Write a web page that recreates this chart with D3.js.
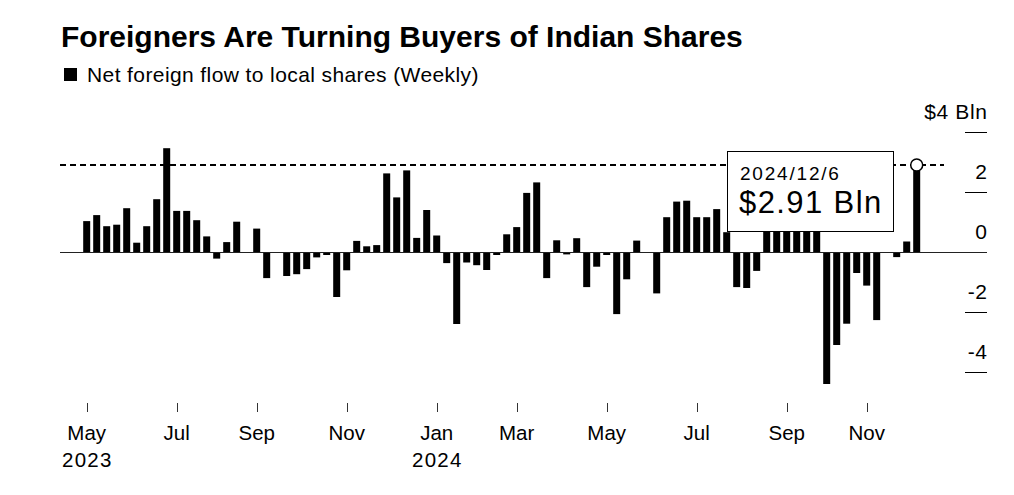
<!DOCTYPE html>
<html>
<head>
<meta charset="utf-8">
<script src="https://cdn.jsdelivr.net/npm/d3@7"></script>
<style>
  html, body { margin: 0; padding: 0; background: #fff; }
  svg { display: block; font-family: "Liberation Sans", Arial, Helvetica, sans-serif; }
</style>
</head>
<body>
<svg id="chart" width="1014" height="495"></svg>
<script>
// ---------- DATA ----------
const weeks = [
  "2023-05-05","2023-05-12","2023-05-19","2023-05-26",
  "2023-06-02","2023-06-09","2023-06-16","2023-06-23","2023-06-30",
  "2023-07-07","2023-07-14","2023-07-21","2023-07-28",
  "2023-08-04","2023-08-11","2023-08-18","2023-08-25",
  "2023-09-01","2023-09-08","2023-09-15","2023-09-22","2023-09-29",
  "2023-10-06","2023-10-13","2023-10-20","2023-10-27",
  "2023-11-03","2023-11-10","2023-11-17","2023-11-24",
  "2023-12-01","2023-12-08","2023-12-15","2023-12-22","2023-12-29",
  "2024-01-05","2024-01-12","2024-01-19","2024-01-26",
  "2024-02-02","2024-02-09","2024-02-16","2024-02-23",
  "2024-03-01","2024-03-08","2024-03-15","2024-03-22","2024-03-29",
  "2024-04-05","2024-04-12","2024-04-19","2024-04-26",
  "2024-05-03","2024-05-10","2024-05-17","2024-05-24","2024-05-31",
  "2024-06-07","2024-06-14","2024-06-21","2024-06-28",
  "2024-07-05","2024-07-12","2024-07-19","2024-07-26",
  "2024-08-02","2024-08-09","2024-08-16","2024-08-23","2024-08-30",
  "2024-09-06","2024-09-13","2024-09-20","2024-09-27",
  "2024-10-04","2024-10-11","2024-10-18","2024-10-25",
  "2024-11-01","2024-11-08","2024-11-15","2024-11-22","2024-11-29",
  "2024-12-06"
];
// Net foreign flow to local shares, $ Bln (weekly)
const netFlow = [
  1.04, 1.24, 0.87, 0.92,
  1.47, 0.32, 0.87, 1.77, 3.47,
  1.38, 1.38, 1.07, 0.53,
  -0.21, 0.34, 1.02, -0.02,
  0.79, -0.86, 0.00, -0.79, -0.73,
  -0.56, -0.17, -0.09, -1.49,
  -0.60, 0.38, 0.20, 0.24,
  2.63, 1.83, 2.73, 0.48, 1.41,
  0.56, -0.36, -2.39, -0.34,
  -0.43, -0.59, -0.09, 0.60,
  0.84, 1.98, 2.33, -0.86, 0.40,
  -0.07, 0.47, -1.16, -0.48,
  -0.09, -2.06, -0.90, 0.39, -0.02,
  -1.37, 1.17, 1.69, 1.72,
  1.17, 1.17, 1.44, 0.67,
  -1.16, -1.19, -0.62, 0.90, 1.30,
  1.10, 1.90, 2.40, 1.60,
  -4.39, -3.09, -2.38, -0.69,
  -1.11, -2.26, 0.00, -0.16, 0.36,
  2.91
];
const xTickWeeks  = ["2023-05-05","2023-07-07","2023-09-01","2023-11-03","2024-01-05","2024-03-01","2024-05-03","2024-07-05","2024-09-06","2024-11-01"];
const xTickLabels = ["May","Jul","Sep","Nov","Jan","Mar","May","Jul","Sep","Nov"];
const xYearLabels = ["2023","","","","2024","","","","",""];
const yTicks      = [4, 2, 0, -2, -4];
const yTickLabels = ["$4 Bln", "2", "0", "-2", "-4"];
const titleText   = "Foreigners Are Turning Buyers of Indian Shares";
const legendText  = "Net foreign flow to local shares (Weekly)";
const calloutDate = "2024/12/6";
const calloutValue = "$2.91 Bln";
const calloutIndex = 83;

// ---------- CHART ----------
const svg = d3.select("#chart");

const x = d3.scaleBand()
  .domain(weeks)
  .range([83.2, 83.2 + 10 * (weeks.length - 0.3)])
  .paddingInner(0.3)
  .paddingOuter(0);

const y = d3.scaleLinear().domain([-4, 4]).range([372.3, 132.3]);

// Title
svg.append("text")
  .attr("x", 61).attr("y", 47)
  .attr("font-size", 30).attr("font-weight", "bold").attr("fill", "#000")
  .text(titleText);

// Legend
svg.append("rect").attr("x", 64).attr("y", 68).attr("width", 13).attr("height", 13).attr("fill", "#000");
svg.append("text")
  .attr("x", 87).attr("y", 82)
  .attr("font-size", 21).attr("letter-spacing", 0.4).attr("fill", "#000")
  .text(legendText);

// Y axis (right side, ticks as short lines with labels above)
const yAxisG = svg.append("g").attr("class", "y-axis");
yAxisG.selectAll("line.tick")
  .data(yTicks.filter(d => d !== 0))
  .join("line")
  .attr("class", "tick")
  .attr("x1", 965).attr("x2", 987)
  .attr("y1", d => Math.round(y(d)) + 0.5).attr("y2", d => Math.round(y(d)) + 0.5)
  .attr("stroke", "#000").attr("stroke-width", 1);
yAxisG.selectAll("text")
  .data(yTicks)
  .join("text")
  .attr("x", 987.5)
  .attr("y", d => y(d) - 13.5)
  .attr("text-anchor", "end")
  .attr("font-size", 21).attr("letter-spacing", 0.6).attr("fill", "#000")
  .text((d, i) => yTickLabels[i]);

// Bars
svg.append("g").selectAll("rect")
  .data(weeks.map((w, i) => ({ w, v: netFlow[i] })))
  .join("rect")
  .attr("x", d => x(d.w))
  .attr("width", x.bandwidth())
  .attr("y", d => y(Math.max(0, d.v)))
  .attr("height", d => Math.abs(y(d.v) - y(0)))
  .attr("fill", "#000");

// Zero line
svg.append("line")
  .attr("x1", 60).attr("x2", 987)
  .attr("y1", Math.round(y(0)) + 0.5).attr("y2", Math.round(y(0)) + 0.5)
  .attr("stroke", "#222").attr("stroke-width", 1);

// X axis ticks and labels
const xAxisG = svg.append("g").attr("class", "x-axis");
xAxisG.selectAll("line")
  .data(xTickWeeks)
  .join("line")
  .attr("x1", d => Math.round(x(d) + x.bandwidth() / 2) + 0.5)
  .attr("x2", d => Math.round(x(d) + x.bandwidth() / 2) + 0.5)
  .attr("y1", 403).attr("y2", 412)
  .attr("stroke", "#333").attr("stroke-width", 1);
xAxisG.selectAll("text.month")
  .data(xTickWeeks)
  .join("text")
  .attr("class", "month")
  .attr("x", d => x(d) + x.bandwidth() / 2)
  .attr("y", 440)
  .attr("text-anchor", "middle")
  .attr("font-size", 20.5).attr("fill", "#000")
  .text((d, i) => xTickLabels[i]);
xAxisG.selectAll("text.year")
  .data(xTickWeeks)
  .join("text")
  .attr("class", "year")
  .attr("x", d => x(d) + x.bandwidth() / 2 + 0.6)
  .attr("y", 467)
  .attr("text-anchor", "middle")
  .attr("font-size", 20.5).attr("letter-spacing", 1.2).attr("fill", "#000")
  .text((d, i) => xYearLabels[i]);

// Reference dashed line at latest value
const lastW = weeks[calloutIndex];
const lastV = netFlow[calloutIndex];
const cx = x(lastW) + x.bandwidth() / 2;
svg.append("line")
  .attr("x1", 60).attr("x2", 944)
  .attr("y1", y(lastV)).attr("y2", y(lastV))
  .attr("stroke", "#000").attr("stroke-width", 1.8)
  .attr("stroke-dasharray", "6,4");

// Callout box
const boxG = svg.append("g");
boxG.append("rect")
  .attr("x", 727.5).attr("y", 151.5).attr("width", 166).attr("height", 80)
  .attr("fill", "#fff").attr("stroke", "#000").attr("stroke-width", 1);
boxG.append("text")
  .attr("x", 740).attr("y", 179.5)
  .attr("font-size", 19).attr("letter-spacing", 1.8).attr("fill", "#000")
  .text(calloutDate);
boxG.append("text")
  .attr("x", 739).attr("y", 213)
  .attr("font-size", 31).attr("letter-spacing", 1.4).attr("fill", "#000")
  .text(calloutValue);

// Highlight circle
svg.append("circle")
  .attr("cx", cx).attr("cy", y(lastV))
  .attr("r", 6)
  .attr("fill", "#fff").attr("stroke", "#000").attr("stroke-width", 1.5);
</script>
</body>
</html>
